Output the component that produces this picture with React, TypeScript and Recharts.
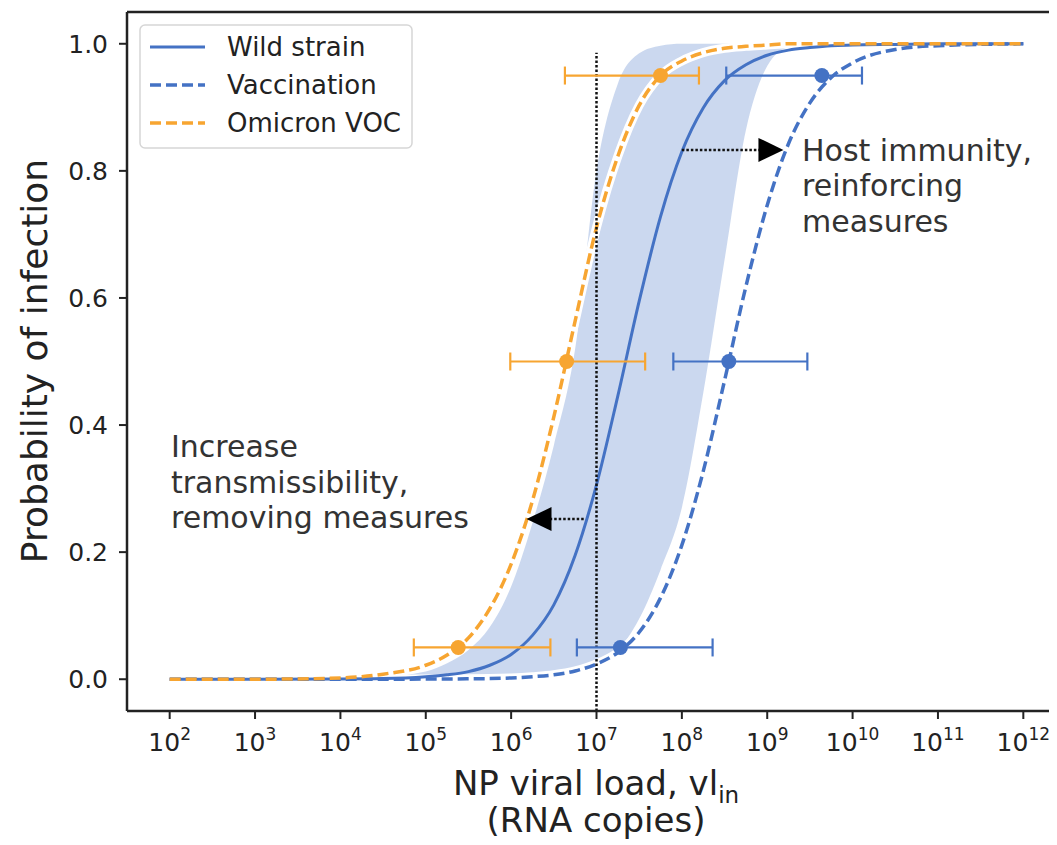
import React from 'react';
import {
  ComposedChart, Line, Area, Scatter, ErrorBar, XAxis, YAxis,
  ReferenceLine, ReferenceDot,
} from 'recharts';

// x values are log10(viral load)
const xs = [2, 3, 4, 4.5, 5, 5.25, 5.5, 5.75, 6, 6.25, 6.5, 6.75, 7, 7.25, 7.5, 7.75, 8, 8.25, 8.5, 8.75, 9, 9.25, 9.5, 9.75, 10, 10.5, 11, 12];
const wild = [0, 0, 0.0003, 0.001, 0.004, 0.007, 0.012, 0.022, 0.039, 0.069, 0.117, 0.195, 0.306, 0.446, 0.595, 0.728, 0.83, 0.899, 0.942, 0.967, 0.982, 0.99, 0.994, 0.997, 0.998, 0.999, 1, 1];
const vaccination = [0, 0, 0, 0, 0.0002, 0.0004, 0.0007, 0.001, 0.002, 0.004, 0.007, 0.013, 0.024, 0.042, 0.074, 0.128, 0.211, 0.327, 0.47, 0.618, 0.746, 0.843, 0.907, 0.947, 0.97, 0.991, 0.997, 1];
const omicron = [0, 0, 0.002, 0.008, 0.022, 0.038, 0.065, 0.111, 0.181, 0.281, 0.413, 0.564, 0.711, 0.823, 0.903, 0.95, 0.973, 0.986, 0.993, 0.996, 0.998, 1, 1, 1, 1, 1, 1, 1];
const bandLow = [0, 0, 0, 0, 0, 0, 0, 0.001, 0.002, 0.004, 0.007, 0.013, 0.024, 0.045, 0.095, 0.172, 0.27, 0.45, 0.66, 0.864, 0.965, 0.995, 1, 1, 1, 1, 1, 1];
const bandHigh = [0, 0, 0.001, 0.004, 0.012, 0.025, 0.046, 0.082, 0.146, 0.246, 0.368, 0.52, 0.8, 0.937, 0.985, 0.997, 1, 1, 1, 1, 1, 1, 1, 1, 1, 1, 1, 1];

const omicronPoints = [
  { x: 5.38, y: 0.05, lo: 4.86, hi: 6.46 },
  { x: 6.65, y: 0.5, lo: 5.99, hi: 7.57 },
  { x: 7.75, y: 0.95, lo: 6.63, hi: 8.2 },
];
const vaccinationPoints = [
  { x: 7.28, y: 0.05, lo: 6.77, hi: 8.36 },
  { x: 8.55, y: 0.5, lo: 7.9, hi: 9.47 },
  { x: 9.64, y: 0.95, lo: 8.52, hi: 10.11 },
];

const xTicks = [2, 3, 4, 5, 6, 7, 8, 9, 10, 11, 12];
const yTicks = [0, 0.2, 0.4, 0.6, 0.8, 1.0];

const BLUE = '#4472C4';
const ORANGE = '#F7A531';
const INK = '#222';
const FONT = '"DejaVu Sans", sans-serif';

const curveData = xs.map((x, i) => ({
  x,
  wild: wild[i],
  vaccination: vaccination[i],
  omicron: omicron[i],
  band: [bandLow[i], bandHigh[i]],
}));

const withErr = (pts: typeof omicronPoints) =>
  pts.map((p) => ({ ...p, ex: [p.x - p.lo, p.hi - p.x] }));

const XTick: React.FC<any> = ({ x, y, payload }) => (
  <text x={x} y={y + 30} textAnchor="middle" fill={INK} fontFamily={FONT} fontSize={25}>
    <tspan>10</tspan>
    <tspan dy={-11} fontSize={17}>{payload.value}</tspan>
  </text>
);

const dot = (color: string) => (props: any) => (
  <circle cx={props.cx} cy={props.cy} r={7.5} fill={color} />
);

const arrowHead = (dir: 'left' | 'right') => (props: any) => {
  const { cx, cy } = props;
  const back = dir === 'right' ? cx - 25 : cx + 25;
  return <polygon points={`${cx},${cy} ${back},${cy - 12} ${back},${cy + 12}`} fill="#000" />;
};

const App: React.FC = () => {
  return (
    <div style={{ position: 'relative', width: 1049, height: 837, overflow: 'hidden' }}>
      <ComposedChart
        width={1068}
        height={837}
        data={curveData}
        margin={{ top: 4, right: 10, bottom: 0, left: 0 }}
      >
        <XAxis
          dataKey="x"
          type="number"
          domain={[1.5, 12.5]}
          ticks={xTicks}
          allowDataOverflow
          height={134}
          tick={<XTick />}
          tickSize={8}
          axisLine={{ stroke: INK, strokeWidth: 2.5 }}
          tickLine={{ stroke: INK, strokeWidth: 2 }}
        />
        <YAxis
          type="number"
          domain={[-0.05, 1.05]}
          ticks={yTicks}
          allowDataOverflow
          width={119}
          tickSize={8}
          tickMargin={11}
          tickFormatter={(v) => Number(v).toFixed(1)}
          tick={{ fill: INK, fontSize: 25, fontFamily: FONT }}
          axisLine={{ stroke: INK, strokeWidth: 2.5 }}
          tickLine={{ stroke: INK, strokeWidth: 2 }}
        />
        <Area dataKey="band" type="monotone" stroke="none" fill={BLUE} fillOpacity={0.28} isAnimationActive={false} />
        <Line key="vw" name="vw" dataKey="vaccination" type="monotone" stroke="#fff" strokeWidth={9} dot={false} activeDot={false} isAnimationActive={false} />
        <Line key="ow" name="ow" dataKey="omicron" type="monotone" stroke="#fff" strokeWidth={9} dot={false} activeDot={false} isAnimationActive={false} />
        <Line key="v" name="Vaccination" dataKey="vaccination" type="monotone" stroke={BLUE} strokeWidth={3.5} strokeDasharray="11 5" dot={false} activeDot={false} isAnimationActive={false} />
        <Line key="w" name="Wild strain" dataKey="wild" type="monotone" stroke={BLUE} strokeWidth={3} dot={false} activeDot={false} isAnimationActive={false} />
        <Line key="o" name="Omicron VOC" dataKey="omicron" type="monotone" stroke={ORANGE} strokeWidth={3.5} strokeDasharray="11 5" dot={false} activeDot={false} isAnimationActive={false} />
        <ReferenceLine
          segment={[{ x: 7, y: -0.05 }, { x: 7, y: 0.986 }]}
          stroke="#111"
          strokeWidth={2.5}
          strokeDasharray="2.5 2"
          ifOverflow="visible"
        />
        <Scatter data={withErr(omicronPoints)} dataKey="y" fill={ORANGE} shape={dot(ORANGE)} isAnimationActive={false}>
          <ErrorBar dataKey="ex" direction="x" width={9} stroke={ORANGE} strokeWidth={2.2} />
        </Scatter>
        <Scatter data={withErr(vaccinationPoints)} dataKey="y" fill={BLUE} shape={dot(BLUE)} isAnimationActive={false}>
          <ErrorBar dataKey="ex" direction="x" width={9} stroke={BLUE} strokeWidth={2.2} />
        </Scatter>
        <ReferenceLine segment={[{ x: 8.0, y: 0.833 }, { x: 8.95, y: 0.833 }]} stroke="#111" strokeWidth={2.5} strokeDasharray="2.5 2" />
        <ReferenceDot x={9.19} y={0.833} r={0} shape={arrowHead('right')} />
        <ReferenceLine segment={[{ x: 6.85, y: 0.252 }, { x: 6.4, y: 0.252 }]} stroke="#111" strokeWidth={2.5} strokeDasharray="2.5 2" />
        <ReferenceDot x={6.18} y={0.252} r={0} shape={arrowHead('left')} />
        <ReferenceLine y={1.05} stroke={INK} strokeWidth={2.5} />
        <ReferenceLine x={12.5} stroke={INK} strokeWidth={2.5} />
      </ComposedChart>

      <svg
        width={1068}
        height={837}
        style={{ position: 'absolute', left: 0, top: 0, pointerEvents: 'none' }}
        fontFamily={FONT}
      >
        {/* legend */}
        <g>
          <rect x={132} y={17} width={272} height={123} rx={5} fill="#fff" fillOpacity={0.85} stroke="#d6d6d6" strokeWidth={1.5} />
          <line x1={142} x2={197} y1={39} y2={39} stroke={BLUE} strokeWidth={3} />
          <line x1={142} x2={197} y1={77} y2={77} stroke={BLUE} strokeWidth={3.5} strokeDasharray="11 5" />
          <line x1={142} x2={197} y1={115} y2={115} stroke={ORANGE} strokeWidth={3.5} strokeDasharray="11 5" />
          <text x={219} y={48} fontSize={26} fill={INK}>Wild strain</text>
          <text x={219} y={86} fontSize={26} fill={INK}>Vaccination</text>
          <text x={219} y={124} fontSize={26} fill={INK}>Omicron VOC</text>
        </g>

        {/* annotations */}
        <g fontSize={30} fill="#333">
          <text x={794} y={153}>Host immunity,</text>
          <text x={794} y={188}>reinforcing</text>
          <text x={794} y={224}>measures</text>
          <text x={163} y={449}>Increase</text>
          <text x={163} y={485}>transmissibility,</text>
          <text x={163} y={520}>removing measures</text>
        </g>

        {/* axis titles */}
        <text x={39} y={353} transform="rotate(-90 39 353)" textAnchor="middle" fontSize={36} fill={INK}>
          Probability of infection
        </text>
        <text x={588} y={787} textAnchor="middle" fontSize={34} fill={INK}>
          NP viral load, vl<tspan dy={8} fontSize={23}>in</tspan>
        </text>
        <text x={588} y={824} textAnchor="middle" fontSize={34} fill={INK}>
          (RNA copies)
        </text>
      </svg>
    </div>
  );
};

export default App;
